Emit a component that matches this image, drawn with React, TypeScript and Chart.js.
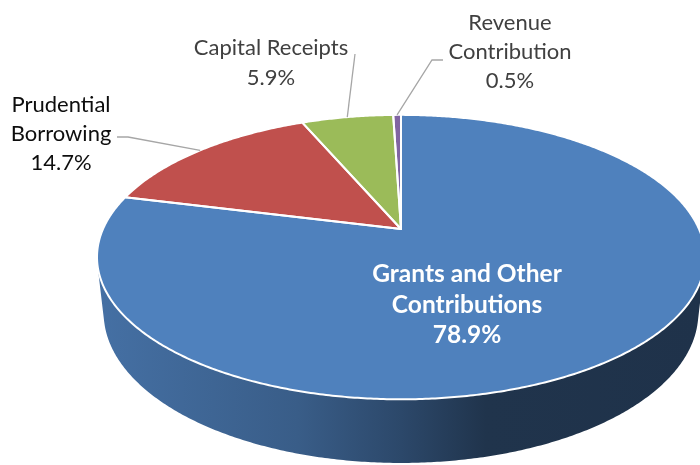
import React, { useEffect, useRef } from "react";
import { Chart, registerables } from "chart.js";

Chart.register(...registerables);

// ---- data ----
const categories = [
  "Grants and Other Contributions",
  "Prudential Borrowing",
  "Capital Receipts",
  "Revenue Contribution",
];
const shares = [78.9, 14.7, 5.9, 0.5];
const sliceColors = ["#4F81BD", "#C0504D", "#9BBB59", "#8064A2"];
const labelLines = [
  ["Grants and Other", "Contributions"],
  ["Prudential", "Borrowing"],
  ["Capital Receipts"],
  ["Revenue", "Contribution"],
];

// ---- 3D view settings (like Excel's 3-D rotation) ----
const VIEW = { tiltDeg: 27.3, distance: 4.5, thickness: 0.212 };
// side shading: [position across the visible wall, brightness factor]
const SIDE_SHADE: [number, number][] = [
  [0, 0.87],
  [0.33, 0.72],
  [0.5, 0.56],
  [0.64, 0.4],
  [1, 0.39],
];

// label layout (text centre x, first baseline y, line height, font, colour, leader bend points)
const LABEL_LAYOUT = [
  { x: 467, y: 282, lh: 30.5, font: "bold 24.5px Lato", color: "#ffffff", leader: null as null | number[][] },
  { x: 61, y: 112, lh: 29, font: "22px Lato", color: "#0d0d0d", leader: [[128, 137], [117, 137]] },
  { x: 271, y: 55, lh: 29.5, font: "22px Lato", color: "#404040", leader: [[355, 54]] },
  { x: 510, y: 30, lh: 29, font: "22px Lato", color: "#404040", leader: [[432, 60], [443, 60]] },
];

function hexToRgb(h: string): number[] {
  const s = h.replace("#", "");
  return [0, 2, 4].map((i) => parseInt(s.slice(i, i + 2), 16));
}
function shade(hex: string, f: number): string {
  const [r, g, b] = hexToRgb(hex);
  return `rgb(${Math.round(r * f)},${Math.round(g * f)},${Math.round(b * f)})`;
}

function geometry(chart: any) {
  const arcs = chart.getDatasetMeta(0).data;
  const p = arcs[0].getProps(["x", "y", "outerRadius"], true);
  const cx = p.x, cy = p.y, A = p.outerRadius;
  const tilt = (VIEW.tiltDeg * Math.PI) / 180;
  const s = Math.sin(tilt), c = Math.cos(tilt);
  const D = VIEW.distance, F = A * D;
  const proj = (a: number, r: number, lvl: number): [number, number] => {
    const u = r * Math.cos(a), v = r * Math.sin(a);
    const d = D + lvl * s - v * c;
    return [cx + (F * u) / d, cy + (F * (lvl * c + v * s)) / d];
  };
  return { arcs, cx, cy, proj, c, D };
}

const pie3d = {
  id: "pie3d",
  beforeDatasetsDraw(chart: any) {
    const { arcs, cx, cy, proj, c, D } = geometry(chart);
    const H = VIEW.thickness;
    const ctx = chart.ctx as CanvasRenderingContext2D;
    ctx.save();
    // outer walls (front-facing part)
    const vis = Math.asin(Math.min(1, 1 / (D * c)));
    const lo = vis, hi = Math.PI - vis;
    const xL = Math.min(proj(hi, 1, 0)[0], proj(hi, 1, H)[0]);
    const xR = Math.max(proj(lo, 1, 0)[0], proj(lo, 1, H)[0]);
    arcs.forEach((arc: any, i: number) => {
      const { startAngle, endAngle } = arc.getProps(["startAngle", "endAngle"], true);
      const a0 = Math.max(startAngle, lo), a1 = Math.min(endAngle, hi);
      if (a1 <= a0) return;
      const n = Math.max(2, Math.ceil((a1 - a0) / (Math.PI / 360)));
      ctx.beginPath();
      for (let j = 0; j <= n; j++) {
        const [px, py] = proj(a0 + ((a1 - a0) * j) / n, 1, 0);
        if (j === 0) ctx.moveTo(px, py);
        else ctx.lineTo(px, py);
      }
      for (let j = n; j >= 0; j--) {
        const [px, py] = proj(a0 + ((a1 - a0) * j) / n, 1, H);
        ctx.lineTo(px, py);
      }
      ctx.closePath();
      const g = ctx.createLinearGradient(xL, 0, xR, 0);
      SIDE_SHADE.forEach(([t, f]) => g.addColorStop(t, shade(sliceColors[i], f)));
      ctx.fillStyle = g;
      ctx.fill();
    });
    // top faces
    const topPath = (arc: any) => {
      const { startAngle, endAngle } = arc.getProps(["startAngle", "endAngle"], true);
      const n = Math.max(2, Math.ceil((endAngle - startAngle) / (Math.PI / 360)));
      ctx.beginPath();
      ctx.moveTo(cx, cy);
      for (let j = 0; j <= n; j++) {
        const [px, py] = proj(startAngle + ((endAngle - startAngle) * j) / n, 1, 0);
        ctx.lineTo(px, py);
      }
      ctx.closePath();
    };
    arcs.forEach((arc: any, i: number) => {
      topPath(arc);
      ctx.fillStyle = sliceColors[i];
      ctx.fill();
    });
    arcs.forEach((arc: any) => {
      topPath(arc);
      ctx.strokeStyle = "#ffffff";
      ctx.lineWidth = 2;
      ctx.lineJoin = "round";
      ctx.stroke();
    });
    ctx.restore();
    return false;
  },
  afterDraw(chart: any) {
    const { arcs, proj } = geometry(chart);
    const ctx = chart.ctx as CanvasRenderingContext2D;
    ctx.save();
    arcs.forEach((arc: any, i: number) => {
      const L = LABEL_LAYOUT[i];
      const { startAngle, endAngle } = arc.getProps(["startAngle", "endAngle"], true);
      if (L.leader) {
        const [sx, sy] = proj((startAngle + endAngle) / 2, 1, 0);
        ctx.beginPath();
        ctx.moveTo(sx, sy);
        L.leader.forEach(([px, py]) => ctx.lineTo(px, py));
        ctx.strokeStyle = "#a6a6a6";
        ctx.lineWidth = 1.3;
        ctx.stroke();
      }
      const lines = [...labelLines[i], `${shares[i].toFixed(1)}%`];
      ctx.font = L.font;
      ctx.fillStyle = L.color;
      ctx.textAlign = "center";
      ctx.textBaseline = "alphabetic";
      lines.forEach((t, k) => ctx.fillText(t, L.x, L.y + k * L.lh));
    });
    ctx.restore();
  },
};

export default function App() {
  const ref = useRef<HTMLCanvasElement>(null);
  useEffect(() => {
    const chart = new Chart(ref.current as HTMLCanvasElement, {
      type: "pie",
      data: {
        labels: categories,
        datasets: [
          {
            data: shares,
            backgroundColor: sliceColors,
            borderWidth: 0,
            radius: 298,
          } as any,
        ],
      },
      options: {
        responsive: false,
        animation: false,
        devicePixelRatio: 1,
        events: [],
        layout: { padding: { left: 102, right: 0, top: 0, bottom: 7 } },
        plugins: { legend: { display: false }, tooltip: { enabled: false } },
      },
      plugins: [pie3d as any],
    });
    return () => chart.destroy();
  }, []);
  return (
    <div style={{ position: "fixed", left: 0, top: 0, width: 700, height: 465, background: "#ffffff", overflow: "hidden" }}>
      <canvas ref={ref} width={700} height={465} style={{ display: "block" }} />
    </div>
  );
}
